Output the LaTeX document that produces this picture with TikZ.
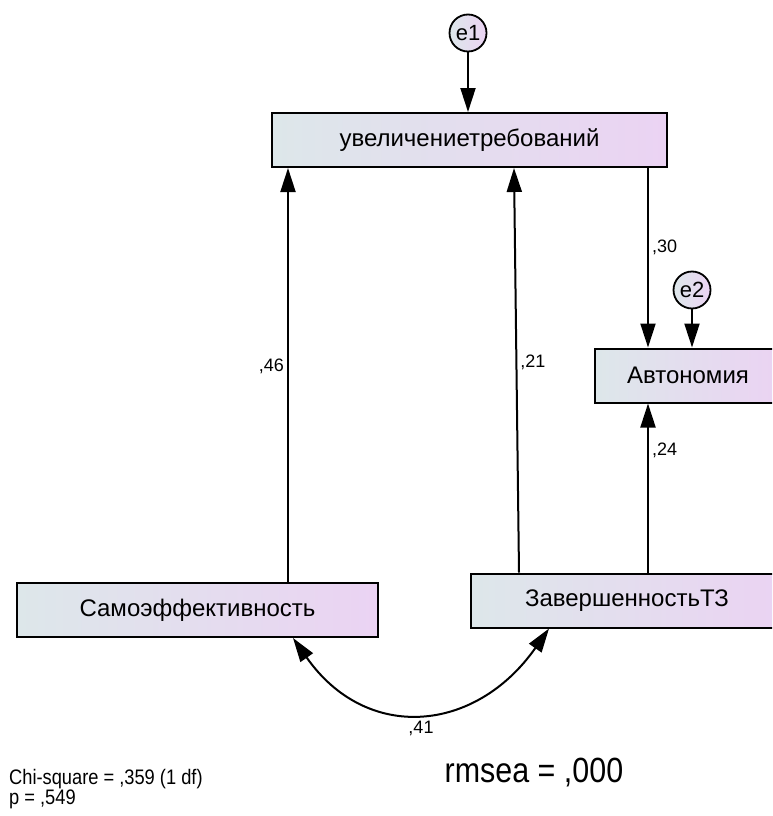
\documentclass[tikz,border=0pt]{standalone}
\usepackage{fontspec}
\setmainfont{Liberation Sans}
\newfontfamily\fitfont[FakeStretch=0.87]{Liberation Sans}
\usetikzlibrary{arrows.meta}

\definecolor{boxleft}{HTML}{DDE7EA}
\definecolor{boxright}{HTML}{EBD3F3}

\tikzset{
	var/.style = {rectangle, draw, line width = 2pt,
		left color = boxleft, right color = boxright,
		minimum height = 54pt, font = \fontsize{24}{28}\selectfont},
	err/.style = {circle, draw, line width = 1.8pt,
		left color = boxleft, right color = boxright,
		inner sep = 0pt, minimum size = 37pt, font = \fontsize{22}{26}\selectfont},
	reg/.style = {line width = 2pt, -{Triangle[length = 24pt, width = 15pt]}},
	cov/.style = {line width = 2pt, {Triangle[length = 24pt, width = 15pt]}-{Triangle[length = 24pt, width = 15pt]}},
	lbl/.style = {font = \fontsize{18}{21}\selectfont}
}

\begin{document}
\begin{tikzpicture}[x = 1pt, y = -1pt]
\clip (0,0) rectangle (772,816);
% observed variables
\node[var, minimum width = 395pt] (u) at (469.5,140) {увеличениетребований};
\node[var, minimum width = 186pt] (a) at (688,375.5) {Автономия};
\node[var, minimum width = 361pt] (s) at (197.5,610) {Самоэффективность};
\node[var, minimum width = 312pt] (z) at (627,600.5) {ЗавершенностьТЗ};
% errors
\node[err] (e1) at (468,33) {e1};
\node[err] (e2) at (692,290) {e2};
% path ends
\coordinate (s1) at ([xshift = 90.5pt]s.north);
\coordinate (z1) at ([xshift = -108pt]z.north);
\coordinate (u1) at ([xshift = 44.5pt]u.south);
\coordinate (z2) at ([xshift = 21pt]z.north);
\coordinate (u2) at ([xshift = 178.5pt]u.south);
\coordinate (s2) at ([xshift = 95.5pt]s.south);
\coordinate (z3) at ([xshift = -78pt]z.south);
% paths
\draw[reg] (e1) -- (e1 |- u.north);
\draw[reg] (e2) -- (e2 |- a.north);
\draw[reg] (s1) -- (s1 |- u.south) node[lbl, pos = 0.52, left, inner sep = 3pt] {,46};
\draw[reg] (z1) -- (u1) node[lbl, pos = 0.52, right, inner sep = 3pt] {,21};
\draw[reg] (u2) -- (u2 |- a.north) node[lbl, pos = 0.44, right, inner sep = 3pt] {,30};
\draw[reg] (z2) -- (z2 |- a.south) node[lbl, pos = 0.72, right, inner sep = 3pt] {,24};
\draw[cov] (s2) .. controls +(-55:128pt) and +(-125:128pt) .. (z3)
	node[lbl, pos = 0.5, below = 5pt] {,41};
% fit
\node[anchor = north west, inner sep = 0pt, align = left,
	font = \fitfont\fontsize{21}{19}\selectfont] (chi) at (9,769) {Chi-square = ,359 (1 df)\\p = ,549};
\node[font = \fitfont\fontsize{35}{40}\selectfont] (rmsea) at (534,773) {rmsea = ,000};
\end{tikzpicture}
\end{document}
